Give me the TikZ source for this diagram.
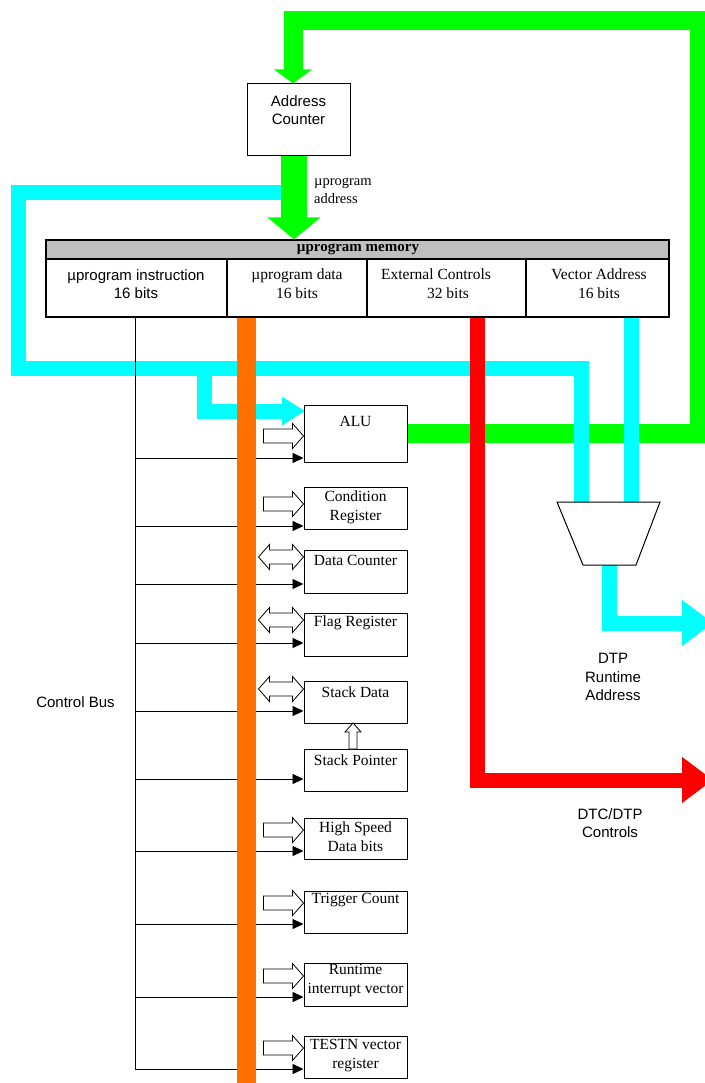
\documentclass[tikz,border=0pt]{standalone}
\usepackage{fontspec}
\setmainfont{Liberation Serif}
\setsansfont{Liberation Sans}
\usetikzlibrary{arrows.meta}
\definecolor{gC}{RGB}{0,255,0}
\definecolor{cC}{RGB}{0,255,255}
\definecolor{oC}{RGB}{255,112,0}
\definecolor{rC}{RGB}{255,0,0}
\definecolor{hdrgray}{RGB}{192,192,192}
\begin{document}
\begin{tikzpicture}[x=1pt,y=-1pt,
  box/.style={draw, line width=1pt, minimum width=103pt, inner sep=0pt, fill=white},
  btxt/.style={font=\fontsize{15.5}{19}\selectfont, align=center, inner sep=0pt},
  stxt/.style={font=\sffamily\fontsize{15}{18.5}\selectfont, align=center, inner sep=0pt},
  cell/.style={draw, line width=1.3pt, minimum height=58pt, inner sep=0pt, fill=white},
  ctl/.style={line width=0.9pt, -{Triangle[length=11pt,width=10pt]}},
  gline/.style={draw=gC, line width=19pt},
  cline/.style={draw=cC, line width=15pt},
  rline/.style={draw=rC, line width=15pt},
  hollowR/.pic={\draw[fill=white, line width=0.8pt] (-40,-7) -- (-11,-7) -- (-11,-12.5) -- (0,0) -- (-11,12.5) -- (-11,7) -- (-40,7) -- cycle;},
  hollowLR/.pic={\draw[fill=white, line width=0.8pt] (-45,0) -- (-34,-12.5) -- (-34,-7) -- (-11,-7) -- (-11,-12.5) -- (0,0) -- (-11,12.5) -- (-11,7) -- (-34,7) -- (-34,12.5) -- cycle;},
  hollowU/.pic={\draw[fill=white, line width=0.8pt] (-4,26) -- (-4,9) -- (-8,9) -- (0,0) -- (8,9) -- (4,9) -- (4,26) -- cycle;}
]
\useasboundingbox[fill=white] (0,0) rectangle (704,1083);

% ---------- nodes ----------
\node[box, minimum height=72pt] (ac) at (298.5,120) {};
\node[stxt] (actext) at (298.5,110) {Address\\Counter};

\node[draw, line width=1.3pt, fill=hdrgray, minimum width=623pt, minimum height=19pt, inner sep=0pt] (hdr) at (357.5,249.5) {};
\node[cell, minimum width=181pt] (m1) at (136.5,288) {};
\node[cell, minimum width=140pt] (m2) at (297,288) {};
\node[cell, minimum width=159pt] (m3) at (446.5,288) {};
\node[cell, minimum width=143pt] (m4) at (597.5,288) {};

% coordinates
\coordinate (g1) at (699,433.5);
\coordinate (g2) at (699,20.5);
\coordinate (g3) at (293,20.5);
\coordinate (c0) at (288,193);
\coordinate (c1) at (18,193);
\coordinate (c2) at (18,368);
\coordinate (c3) at (581,368);
\coordinate (cb0) at (204,368);
\coordinate (cb1) at (204,411);
\coordinate (muxL) at (581,502);
\coordinate (muxR) at (631,502);
\coordinate (muxO) at (609,565);
\coordinate (mo1) at (609,623);
\coordinate (mo2) at (713,623);
\coordinate (r1) at (477,780);
\coordinate (r2) at (713,780);
\coordinate (obot) at (246.5,1083);
\coordinate (bb) at (135,1069);

% ---------- thick buses ----------
% green loop
\draw[gline, -{Triangle[length=14pt,width=37pt]}] (408,433.5) -- (g1) -- (g2) -- (g3) -- (g3 |- ac.north);
% cyan
\draw[cline] (c0) -- (c1) -- (c2) -- (c3) -- (muxL);
\draw[cline, -{Triangle[length=23pt,width=27pt]}] (cb0) -- (cb1) -- (305,411);
\draw[cline] (m4.south -| muxR) -- (muxR);
\draw[cline, -{Triangle[length=31pt,width=44pt]}] (muxO) -- (mo1) -- (mo2);
% green address arrow
\draw[draw=gC, line width=26pt, -{Triangle[length=22pt,width=52pt]}] ([xshift=-4.5pt]ac.south) -- ([xshift=-4.5pt]ac.south |- hdr.north);

% control bus
\draw[line width=0.9pt] (m1.south -| bb) -- (bb);

% ---------- boxes ----------
\node[box, minimum height=57pt] (alu) at (355.5,433.5) {};
\node[box, minimum height=42pt] (cond) at (355.5,508) {};
\node[box, minimum height=43pt] (dc) at (355.5,571.5) {};
\node[box, minimum height=43pt] (fr) at (355.5,634.5) {};
\node[box, minimum height=42pt] (sd) at (355.5,702) {};
\node[box, minimum height=42pt] (sp) at (355.5,770) {};
\node[box, minimum height=41pt] (hs) at (355.5,838.5) {};
\node[box, minimum height=42pt] (tc) at (355.5,912) {};
\node[box, minimum height=43pt] (rt) at (355.5,984.5) {};
\node[box, minimum height=42pt] (tn) at (355.5,1057) {};

% control lines
\foreach \yy/\bx in {458/alu,526/cond,584/dc,643/fr,711/sd,779/sp,851/hs,924/tc,997/rt,1069/tn}{
  \coordinate (cl) at (135,\yy);
  \draw[ctl] (cl) -- (cl -| \bx.west);
}

% orange data bus
\draw[draw=oC, line width=19pt] (m2.south -| obot) -- (obot);

% red
\draw[rline, -{Triangle[length=31pt,width=44pt]}] (m3.south -| r1) -- (r1) -- (r2);

% mux
\draw[line width=1pt, fill=white] (557,502) -- (660,502) -- (636,565) -- (583,565) -- cycle;

% hollow arrows
\pic at (303.5,436) {hollowR};
\pic at (303.5,504) {hollowR};
\pic at (303.5,557) {hollowLR};
\pic at (303.5,620) {hollowLR};
\pic at (303.5,689) {hollowLR};
\pic at (303.5,830) {hollowR};
\pic at (303.5,903) {hollowR};
\pic at (303.5,976) {hollowR};
\pic at (303.5,1048) {hollowR};
\pic at (353,723) {hollowU};

% ---------- texts ----------
\node[btxt, font=\bfseries\fontsize{15}{17}\selectfont] at (358,249.5) {µprogram memory};
\node[stxt] at (136,284) {µprogram instruction\\16 bits};
\node[btxt] at (297,284) {µprogram data\\16 bits};
\node[btxt] at (436,284) {External Controls\\\hspace*{24pt}32 bits};
\node[btxt] at (599,284) {Vector Address\\16 bits};
\node[btxt, font=\fontsize{14.5}{18}\selectfont, align=left, anchor=west] at (314,191) {µprogram\\address};

\node[btxt] at (355.5,421) {ALU};
\node[btxt] at (355.5,507) {Condition\\Register};
\node[btxt] at (355.5,560) {Data Counter};
\node[btxt] at (355.5,623) {Flag Register};
\node[btxt] at (355.5,692) {Stack Data};
\node[btxt] at (355.5,760) {Stack Pointer};
\node[btxt] at (355.5,837) {High Speed\\Data bits};
\node[btxt] at (355.5,900) {Trigger Count};
\node[btxt] at (355.5,981) {Runtime\\interrupt vector};
\node[btxt] at (355.5,1056) {TESTN vector\\register};

\node[stxt] at (75.5,702) {Control Bus};
\node[stxt] at (613,677) {DTP\\Runtime\\Address};
\node[stxt] at (610,823) {DTC/DTP\\Controls};
\end{tikzpicture}
\end{document}
